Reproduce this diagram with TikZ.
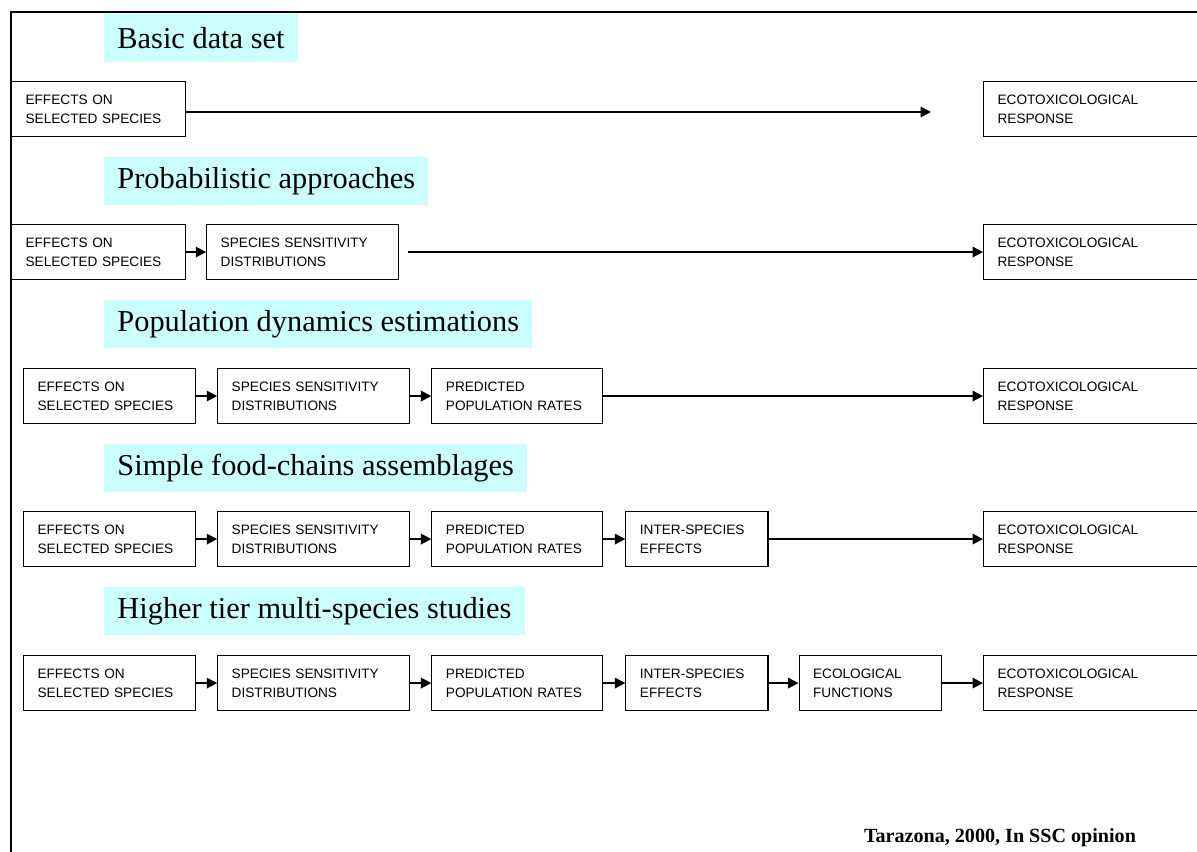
\documentclass[tikz,border=0pt]{standalone}
\usepackage{fontspec}
\setmainfont{Liberation Serif}
\newfontfamily\boxfont{Liberation Sans}
\usepackage{tikz}
\usetikzlibrary{positioning,arrows.meta}
\usepackage{xcolor}
\definecolor{titlecyan}{RGB}{204,255,255}

\begin{document}
\begin{tikzpicture}[
    x=0.025cm, y=-0.025cm,
    node distance=0.525cm,
    title/.style={fill=titlecyan, anchor=north west, minimum height=1.2cm, inner xsep=0.33cm, font=\fontsize{21.6}{26}\selectfont},
    stage/.style={draw, line width=0.8pt, anchor=north west, align=left, minimum height=1.375cm, inner xsep=0.35cm, font=\boxfont\fontsize{9.7}{13.5}\selectfont},
    effbox/.style={stage, text width=3.6cm},
    ssdbox/.style={stage, text width=4.1cm},
    popbox/.style={stage, text width=3.57cm},
    interbox/.style={stage, text width=2.85cm},
    respbox/.style={stage, text width=5.6cm},
    line/.style={-{Triangle[length=2.6mm, width=2.6mm]}, line width=1.3pt}
]
\clip (0,0) rectangle (1197,852);
\draw[line width=0.8pt] (1197,12) -- (11,12) -- (11,852);

% basic data set
\node[title] (basic) at (104,14) {Basic data set};
\node[effbox, text width=3.65cm] (eff1) at (11,81) {EFFECTS ON\\SELECTED SPECIES};
\node[respbox] (resp1) at (983,81) {ECOTOXICOLOGICAL\\RESPONSE};
\coordinate (end1) at (931,112);
\draw[line] (eff1.east |- end1) -- (end1);

% probabilistic approaches
\node[title] (prob) at (104,157) {Probabilistic approaches};
\node[effbox, text width=3.65cm] (eff2) at (11,224) {EFFECTS ON\\SELECTED SPECIES};
\node[ssdbox, right=0.5cm of eff2] (ssd2) {SPECIES SENSITIVITY\\DISTRIBUTIONS};
\node[respbox] (resp2) at (983,224) {ECOTOXICOLOGICAL\\RESPONSE};
\draw[line] (eff2) -- (ssd2);
\draw[line, shorten <=0.225cm] (ssd2) -- (resp2);

% population dynamics
\node[title] (popdyn) at (104,300) {Population dynamics estimations};
\node[effbox] (eff3) at (23,368) {EFFECTS ON\\SELECTED SPECIES};
\node[ssdbox, right=of eff3] (ssd3) {SPECIES SENSITIVITY\\DISTRIBUTIONS};
\node[popbox, right=of ssd3] (pop3) {PREDICTED\\POPULATION RATES};
\node[respbox] (resp3) at (983,368) {ECOTOXICOLOGICAL\\RESPONSE};
\draw[line] (eff3) -- (ssd3);
\draw[line] (ssd3) -- (pop3);
\draw[line] (pop3) -- (resp3);

% food chains
\node[title] (foodch) at (104,444) {Simple food-chains assemblages};
\node[effbox] (eff4) at (23,511) {EFFECTS ON\\SELECTED SPECIES};
\node[ssdbox, right=of eff4] (ssd4) {SPECIES SENSITIVITY\\DISTRIBUTIONS};
\node[popbox, right=of ssd4] (pop4) {PREDICTED\\POPULATION RATES};
\node[interbox, right=0.55cm of pop4] (inter4) {INTER-SPECIES\\EFFECTS};
\node[respbox] (resp4) at (983,511) {ECOTOXICOLOGICAL\\RESPONSE};
\draw[line] (eff4) -- (ssd4);
\draw[line] (ssd4) -- (pop4);
\draw[line] (pop4) -- (inter4);
\draw[line] (inter4) -- (resp4);

% higher tier
\node[title] (higher) at (104,587) {Higher tier multi-species studies};
\node[effbox] (eff5) at (23,655) {EFFECTS ON\\SELECTED SPECIES};
\node[ssdbox, right=of eff5] (ssd5) {SPECIES SENSITIVITY\\DISTRIBUTIONS};
\node[popbox, right=of ssd5] (pop5) {PREDICTED\\POPULATION RATES};
\node[interbox, right=0.55cm of pop5] (inter5) {INTER-SPECIES\\EFFECTS};
\node[interbox, right=0.75cm of inter5] (eco5) {ECOLOGICAL\\FUNCTIONS};
\node[respbox] (resp5) at (983,655) {ECOTOXICOLOGICAL\\RESPONSE};
\draw[line] (eff5) -- (ssd5);
\draw[line] (ssd5) -- (pop5);
\draw[line] (pop5) -- (inter5);
\draw[line] (inter5) -- (eco5);
\draw[line] (eco5) -- (resp5);

\node[font=\bfseries\fontsize{14.3}{17}\selectfont] (src) at (1000,838) {Tarazona, 2000, In SSC opinion};
\end{tikzpicture}
\end{document}
